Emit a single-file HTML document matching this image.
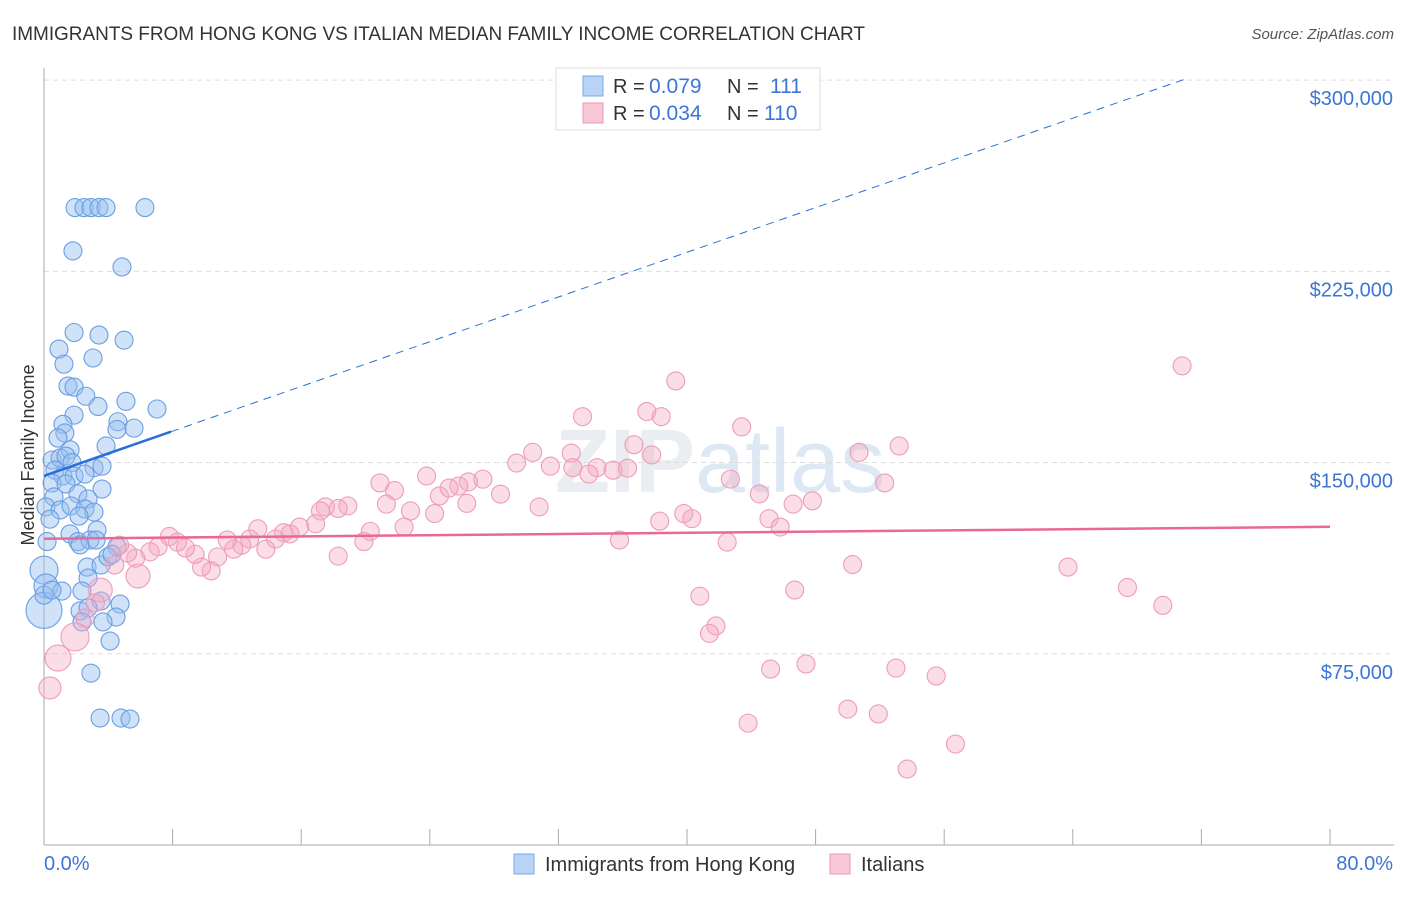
<!DOCTYPE html>
<html><head><meta charset="utf-8"><style>
body{margin:0;background:#fff;font-family:"Liberation Sans",sans-serif}
svg text{font-family:"Liberation Sans",sans-serif}
</style></head><body>
<svg id="chart" width="1406" height="892" viewBox="0 0 1406 892" xmlns="http://www.w3.org/2000/svg">
<text x="12" y="40" font-size="19" fill="#333" textLength="853">IMMIGRANTS FROM HONG KONG VS ITALIAN MEDIAN FAMILY INCOME CORRELATION CHART</text>
<text x="1394" y="39" font-size="15" fill="#555" font-style="italic" text-anchor="end">Source: ZipAtlas.com</text>
<text x="555" y="492" font-size="90" fill="#dde3ea" font-weight="bold" opacity="0.6">ZIP<tspan font-weight="normal" fill="#c9d9ef">atlas</tspan></text>
<text transform="translate(34,455) rotate(-90)" font-size="18" fill="#333" text-anchor="middle">Median Family Income</text>
<g id="grid"></g><g id="axes"></g><g id="blue"></g><g id="pink"></g><g id="trends"></g>
<g>
<rect x="556" y="68" width="264" height="62" fill="#fff" stroke="#ddd"/>
<rect x="583" y="76" width="20" height="20" fill="#b8d3f5" stroke="#7aa8e6"/>
<text x="613" y="93" font-size="20" fill="#333">R =</text><text x="649" y="93" font-size="21" fill="#3b76d6">0.079</text>
<text x="727" y="93" font-size="20" fill="#333">N =</text><text x="770" y="93" font-size="21" fill="#3b76d6">111</text>
<rect x="583" y="103" width="20" height="20" fill="#f9c6d6" stroke="#eb9ab6"/>
<text x="613" y="120" font-size="20" fill="#333">R =</text><text x="649" y="120" font-size="21" fill="#3b76d6">0.034</text>
<text x="727" y="120" font-size="20" fill="#333">N =</text><text x="764" y="120" font-size="21" fill="#3b76d6">110</text>
</g>
<g>
<rect x="514" y="854" width="20" height="20" fill="#b8d3f5" stroke="#7aa8e6"/>
<text x="545" y="871" font-size="20" fill="#333">Immigrants from Hong Kong</text>
<rect x="830" y="854" width="20" height="20" fill="#f9c6d6" stroke="#eb9ab6"/>
<text x="861" y="871" font-size="20" fill="#333">Italians</text>
</g>
</svg>
<script>
const yTicks=[75000,150000,225000,300000];
const yTickLabels=["$75,000","$150,000","$225,000","$300,000"];
const xLabels=["0.0%","80.0%"];
const blueX=[1.93,2.49,2.92,3.42,3.86,6.28,1.8,4.85,1.87,3.42,4.98,0.93,1.24,3.05,1.49,1.87,2.6,3.36,5.1,7.03,1.87,1.18,4.6,1.3,5.6,4.54,3.86,0.87,1.62,0.5,1.0,1.37,1.74,0.68,3.11,3.61,1.18,1.87,2.55,0.5,1.37,2.11,3.61,0.62,2.74,0.12,1.0,1.68,2.55,3.11,0.37,2.18,3.3,1.62,0.19,2.11,2.86,3.24,2.24,4.54,0,2.68,3.55,3.98,4.23,2.74,0.12,1.12,2.36,3.55,4.73,0,2.24,2.74,4.48,3.67,2.36,4.11,2.92,3.49,4.79,5.35,0,0.5];
const blueV=[250000,250000,250000,250000,250000,250000,233000,226700,201000,200000,198000,194500,188600,191000,180000,179600,176000,172000,174000,171000,168600,165000,166000,161600,163500,163000,156500,159600,155000,151000,151800,152500,150000,147000,148000,148600,144700,144700,145500,142000,141600,137700,139600,136500,135700,132600,131400,133000,131800,130600,127800,129000,123500,122000,119000,119000,119600,119600,117700,117000,107800,109000,109800,113000,114000,104700,101600,99600,99600,95700,94500,92000,91800,93000,89400,87500,87500,80000,67400,49800,49800,49400,98000,100000];
const blueR=[9,9,9,9,9,9,9,9,9,9,9,9,9,9,9,9,9,9,9,9,9,9,9,9,9,9,9,9,9,9,9,9,9,9,9,9,9,9,9,9,9,9,9,9,9,9,9,9,9,9,9,9,9,9,9,9,9,9,9,9,14,9,9,9,9,9,12,9,9,9,9,18,9,9,9,9,9,9,9,9,9,9,9,9];
const pinkX=[70.8,39.3,33.5,37.5,38.4,43.4,36.7,37.8,32.8,30.4,29.4,31.5,32.9,34.4,35.4,36.3,33.9,50.7,53.2,52.3,42.7,44.5,46.6,47.8,45.1,45.8,38.3,39.8,40.3,42.5,35.8,28.4,27.3,26.4,25.8,24.6,25.2,26.3,23.8,24.3,22.8,22.4,20.9,21.8,21.3,20.3,19.9,18.9,18.3,17.5,17.2,16.9,15.9,15.3,14.9,14.4,13.3,13.8,12.8,12.3,11.8,11.4,10.8,10.4,9.8,9.4,8.8,8.3,7.8,7.1,6.6,5.7,5.2,4.7,5.85,4.4,3.5,3.2,2.55,1.93,0.87,0.37,30.8,40.8,41.8,41.4,46.7,50.3,45.2,47.4,53,55.5,50,51.9,43.8,56.7,53.7,63.7,67.4,69.6,18.3];
const pinkV=[187900,182000,168000,170000,168000,164000,157000,153000,153700,154000,149800,148600,148000,148000,147000,147800,145500,154000,156500,142000,143500,137700,133700,135000,128000,124700,127000,130000,128000,118800,119600,137600,143500,142400,140800,136900,140000,134000,144700,130000,131000,124700,142000,139000,133700,123000,119000,133000,132000,132600,131000,126000,124700,122000,122500,120000,124000,116000,120000,117600,116000,119600,113000,107500,109000,114000,116500,118800,121000,117000,115000,112500,114500,117600,105500,109800,100000,95000,89000,81600,73300,61600,132600,97600,85900,83000,100000,110000,69000,71000,69400,66300,53300,51400,47800,39600,29800,109000,101000,94000,113300];
const pinkR=[9,9,9,9,9,9,9,9,9,9,9,9,9,9,9,9,9,9,9,9,9,9,9,9,9,9,9,9,9,9,9,9,9,9,9,9,9,9,9,9,9,9,9,9,9,9,9,9,9,9,9,9,9,9,9,9,9,9,9,9,9,9,9,9,9,9,9,9,9,9,9,9,9,9,12,9,12,9,9,14,13,11,9,9,9,9,9,9,9,9,9,9,9,9,9,9,9,9,9,9,9];
const blueTrend=[0,144800,7.9,162100,71,300400];
const pinkTrend=[0,120100,80,124800];
const NS="http://www.w3.org/2000/svg";
const X=p=>44+p*(1286/80);
const Y=v=>845-v/392.2;
function mk(tag,parent,attrs){const e=document.createElementNS(NS,tag);for(const k in attrs)e.setAttribute(k,attrs[k]);document.getElementById(parent).appendChild(e);return e;}
yTicks.forEach((t,i)=>{
 const g=mk('line','grid',{x1:44,x2:1394,y1:Y(t),y2:Y(t),stroke:'#ddd','stroke-dasharray':'5,4'});
 
 
 const l=mk('text','axes',{x:1393,y:Y(t)+25,'font-size':20,fill:'#3b76d6','text-anchor':'end'});
 l.textContent=yTickLabels[i];
 
 
});
const ax=mk('line','axes',{x1:44,x2:44,y1:68,y2:845,stroke:'#aaa'});


const bx=mk('line','axes',{x1:44,x2:1394,y1:845,y2:845,stroke:'#aaa'});


for(let i=0;i<=10;i++){const t=mk('line','axes',{x1:X(i*8),x2:X(i*8),y1:829,y2:845,stroke:'#aaa'});
 
 }
const xl0=mk('text','axes',{x:44,y:870,'font-size':20,fill:'#3b76d6'});xl0.textContent=xLabels[0];


const xl1=mk('text','axes',{x:1393,y:870,'font-size':20,fill:'#3b76d6','text-anchor':'end'});xl1.textContent=xLabels[1];


blueX.forEach((p,i)=>{const c=mk('circle','blue',{cx:X(p),cy:Y(blueV[i]),r:blueR[i],fill:'rgba(150,190,240,0.45)',stroke:'#6a9ee2','stroke-width':1.1});
 
 });
pinkX.forEach((p,i)=>{const c=mk('circle','pink',{cx:X(p),cy:Y(pinkV[i]),r:pinkR[i],fill:'rgba(245,170,195,0.4)',stroke:'#ee9cb8','stroke-width':1.1});
 
 });
const b1=mk('line','trends',{x1:X(blueTrend[0]),y1:Y(blueTrend[1]),x2:X(blueTrend[2]),y2:Y(blueTrend[3]),stroke:'#2a6fd6','stroke-width':2.5});


const b2=mk('line','trends',{x1:X(blueTrend[2]),y1:Y(blueTrend[3]),x2:X(blueTrend[4]),y2:Y(blueTrend[5]),stroke:'#2a6fd6','stroke-width':1,'stroke-dasharray':'8,6'});


const p1=mk('line','trends',{x1:X(pinkTrend[0]),y1:Y(pinkTrend[1]),x2:X(pinkTrend[2]),y2:Y(pinkTrend[3]),stroke:'#e8689a','stroke-width':2.5});


</script>
</body></html>
